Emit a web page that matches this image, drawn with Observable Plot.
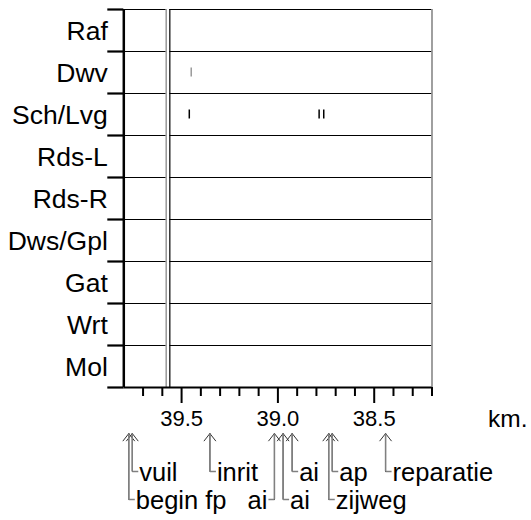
<!DOCTYPE html>
<html>
<head>
<meta charset="utf-8">
<script src="https://cdn.jsdelivr.net/npm/d3@7"></script>
<script src="https://cdn.jsdelivr.net/npm/@observablehq/plot@0.6"></script>
<style>
  html, body { margin: 0; padding: 0; background: #fff; }
  #chart svg { display: block; }
</style>
</head>
<body>
<div id="chart"></div>
<script>
// ---- data ----
const categories = ["Raf", "Dwv", "Sch/Lvg", "Rds-L", "Rds-R", "Dws/Gpl", "Gat", "Wrt", "Mol"];
const kmDomain = [39.8, 38.2];
const kmMajorTicks = [39.5, 39.0, 38.5];
const kmMinorTicks = [39.7, 39.6, 39.4, 39.3, 39.2, 39.1, 38.9, 38.8, 38.7, 38.6, 38.4, 38.3, 38.2];
const axisUnit = "km.";
const sectionGrayKm = [39.58];
const sectionBlackKm = [39.561];
const dwvMarksKm = [39.45];
const schLvgMarksKm = [39.46, 38.786, 38.762];
const annotationLabels = ["begin fp", "vuil", "inrit", "ai", "ai", "ai", "zijweg", "ap", "reparatie"];
const annotationKm = [39.774, 39.756, 39.353, 39.018, 38.973, 38.926, 38.736, 38.718, 38.441];
const annotationRow = [2, 1, 1, 2, 2, 1, 2, 1, 1];
const annotationSide = ["right", "right", "right", "left", "right", "right", "right", "right", "right"];

// ---- layout ----
const W = 531, H = 520;
const mL = 123.3, mR = 99.5, mT = 9, mB = 133;
const kmPerPx = (kmDomain[0] - kmDomain[1]) / (W - mL - mR);
const rowPx = (H - mT - mB) / categories.length;
const pxY = px => (px - mT) / rowPx; // pixel -> y data units
const nRows = categories.length;
const boundaries = d3.range(nRows + 1);
const FONT = "Liberation Sans, Arial, Helvetica, sans-serif";

const tipY = pxY(433);
const rowY = {1: pxY(471), 2: pxY(499)};
const connKm = 6 * kmPerPx;

const annotations = annotationLabels.map((label, i) => {
  const dir = annotationSide[i] === "right" ? 1 : -1;
  return {
    label,
    km: annotationKm[i],
    y: rowY[annotationRow[i]],
    side: annotationSide[i],
    kmEnd: annotationKm[i] - dir * connKm
  };
});

const laneMarks = [
  ...dwvMarksKm.map(km => ({km, row: categories.indexOf("Dwv"), kind: "gray"})),
  ...schLvgMarksKm.map(km => ({km, row: categories.indexOf("Sch/Lvg"), kind: "black"}))
];
const markHalf = 4.5 / rowPx;

const chart = Plot.plot({
  width: W,
  height: H,
  marginLeft: mL,
  marginRight: mR,
  marginTop: mT,
  marginBottom: mB,
  style: {fontFamily: FONT, background: "#fff", overflow: "visible"},
  x: {domain: kmDomain, axis: null},
  y: {domain: [0, nRows], reverse: true, axis: null},
  marks: [
    // horizontal lane boundaries (broken at the double section line)
    Plot.ruleY(boundaries.slice(0, nRows), {y: d => d, x1: kmDomain[0], x2: sectionGrayKm[0], stroke: "#000", strokeWidth: 1.2}),
    Plot.ruleY(boundaries.slice(0, nRows), {y: d => d, x1: sectionBlackKm[0], x2: kmDomain[1], stroke: "#000", strokeWidth: 1.2}),
    // section lines
    Plot.ruleX(sectionGrayKm, {x: d => d, y1: 0, y2: nRows, stroke: "#888", strokeWidth: 1.3}),
    Plot.ruleX(sectionBlackKm, {x: d => d, y1: 0, y2: nRows, stroke: "#000", strokeWidth: 1.2}),
    // right frame edge
    Plot.ruleX([kmDomain[1]], {x: d => d, y1: 0, y2: nRows, stroke: "#888", strokeWidth: 1.6}),
    // lane marks
    Plot.ruleX(laneMarks.filter(d => d.kind === "gray"), {x: "km", y1: d => d.row + 0.5 - markHalf, y2: d => d.row + 0.5 + markHalf, stroke: "#999", strokeWidth: 1.5}),
    Plot.ruleX(laneMarks.filter(d => d.kind === "black"), {x: "km", y1: d => d.row + 0.5 - markHalf, y2: d => d.row + 0.5 + markHalf, stroke: "#000", strokeWidth: 1.5}),
    // y axis line and boundary ticks
    Plot.ruleX([kmDomain[0]], {x: d => d, y1: 0, y2: nRows, stroke: "#000", strokeWidth: 2.5}),
    Plot.ruleY(boundaries, {y: d => d, x1: kmDomain[0], x2: kmDomain[0] + 16 * kmPerPx, stroke: "#000", strokeWidth: 2.2}),
    // y labels
    Plot.text(categories, {x: kmDomain[0], y: (d, i) => i + 0.5, text: d => d, textAnchor: "end", dx: -16, dy: 1, fontSize: 26.5, fill: "#000"}),
    // x axis line + ticks
    Plot.ruleY([nRows], {y: d => d, x1: kmDomain[0], x2: kmDomain[1], stroke: "#000", strokeWidth: 2.2}),
    Plot.ruleX(kmMinorTicks, {x: d => d, y1: nRows, y2: nRows + 9 / rowPx, stroke: "#000", strokeWidth: 2}),
    Plot.ruleX(kmMajorTicks, {x: d => d, y1: nRows, y2: nRows + 16 / rowPx, stroke: "#000", strokeWidth: 2}),
    Plot.text(kmMajorTicks, {x: d => d, y: nRows, dy: 23, lineAnchor: "top", text: d => d.toFixed(1), fontSize: 22, fill: "#000"}),
    Plot.text([axisUnit], {x: kmDomain[1], y: nRows, dx: 56, dy: 22, lineAnchor: "top", textAnchor: "start", text: d => d, fontSize: 24.5, fill: "#000"}),
    // annotation arrows: dark heads, gray shafts drawn on top
    Plot.arrow(annotations, {x1: "km", x2: "km", y1: "y", y2: tipY, stroke: "#333", strokeWidth: 1, headLength: 14, headAngle: 76}),
    Plot.ruleX(annotations, {x: "km", y1: tipY + 0.01, y2: "y", stroke: "#808080", strokeWidth: 1.5}),
    Plot.link(annotations, {x1: "km", x2: "kmEnd", y1: "y", y2: "y", stroke: "#808080", strokeWidth: 1.5}),
    Plot.text(annotations.filter(d => d.side === "right"), {x: "kmEnd", y: "y", text: "label", textAnchor: "start", dx: 1, dy: 1, fontSize: 25.5, fill: "#000"}),
    Plot.text(annotations.filter(d => d.side === "left"), {x: "kmEnd", y: "y", text: "label", textAnchor: "end", dx: -1, dy: 1, fontSize: 25.5, fill: "#000"})
  ]
});
document.getElementById("chart").appendChild(chart);
</script>
</body>
</html>
